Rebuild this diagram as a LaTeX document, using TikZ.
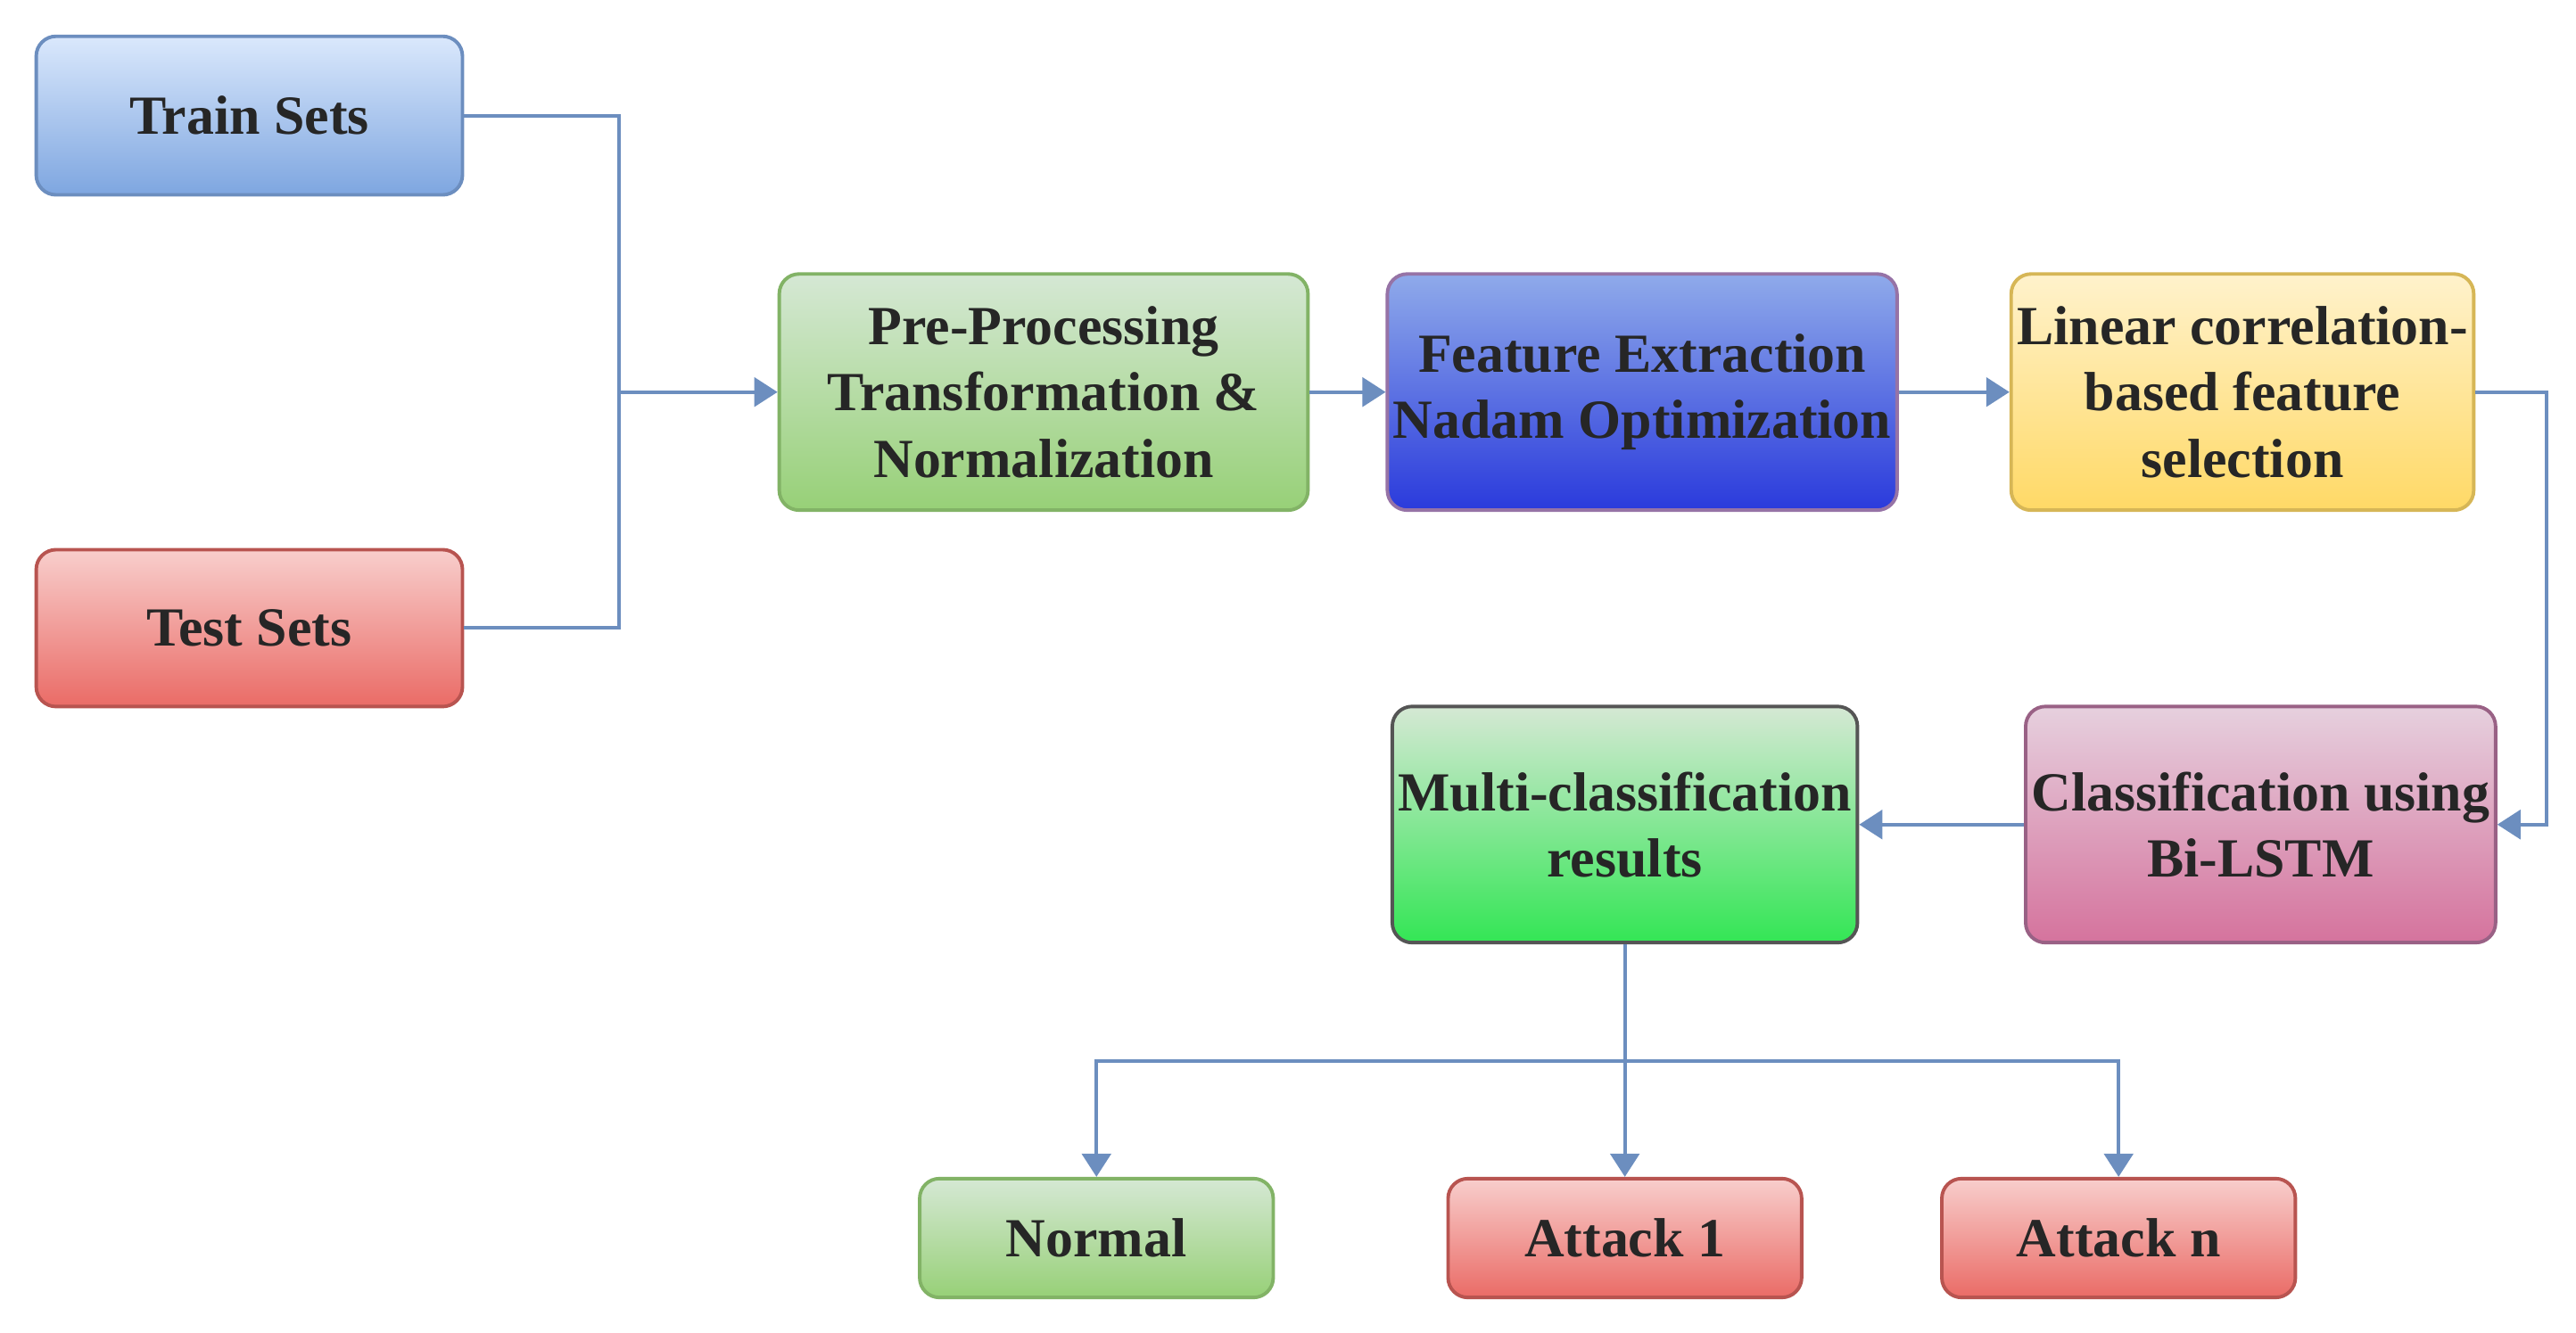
\documentclass[tikz,border=0pt]{standalone}
\usepackage{fontspec}
\setmainfont{Liberation Serif}
\usetikzlibrary{arrows.meta}
\definecolor{ln}{HTML}{6C8EBF}
\definecolor{bT}{HTML}{DAE8FC}\definecolor{bB}{HTML}{7EA6E0}\definecolor{bD}{HTML}{6C8EBF}
\definecolor{rT}{HTML}{F8CECC}\definecolor{rB}{HTML}{EA6B66}\definecolor{rD}{HTML}{B85450}
\definecolor{gT}{HTML}{D5E8D4}\definecolor{gB}{HTML}{97D077}\definecolor{gD}{HTML}{82B366}
\definecolor{fT}{HTML}{8FAAEA}\definecolor{fB}{HTML}{2A3ADC}\definecolor{fD}{HTML}{9673A6}
\definecolor{yT}{HTML}{FFF2CC}\definecolor{yB}{HTML}{FFD966}\definecolor{yD}{HTML}{D6B656}
\definecolor{pT}{HTML}{E6D0DE}\definecolor{pB}{HTML}{D5739D}\definecolor{pD}{HTML}{996185}
\definecolor{mB}{HTML}{33E655}\definecolor{mD}{HTML}{555555}
\tikzset{
 box/.style={rounded corners=0.12cm, line width=0.6pt, align=center, inner sep=1pt,
   font=\fontsize{9.5}{11.4}\selectfont\bfseries, minimum height=1.43cm, text=black!85},
 grad/.style n args={3}{top color=#1, bottom color=#2, draw=#3},
 conn/.style={draw=ln, line width=0.6pt, -{Triangle[open, fill=ln, length=4pt, width=5pt]}},
 plain/.style={draw=ln, line width=0.6pt},
}
\begin{document}
\begin{tikzpicture}[x=0.01cm,y=0.01cm]
\useasboundingbox (0,0) rectangle (1560,-807.5);
\node[box, grad={bT}{bB}{bD}, minimum width=2.58cm, minimum height=0.96cm] (train) at (151,-70) {Train Sets};
\node[box, grad={rT}{rB}{rD}, minimum width=2.58cm, minimum height=0.95cm] (test) at (151,-380.5) {Test Sets};
\node[box, grad={gT}{gB}{gD}, minimum width=3.2cm] (pre) at (632,-237.5) {Pre-Processing\\Transformation \&\\Normalization};
\node[box, grad={fT}{fB}{fD}, minimum width=2.77cm] (feat) at (994.5,-237.5) {Feature Extraction\\Nadam Optimization};
\node[box, grad={yT}{yB}{yD}, minimum width=2.78cm] (lin) at (1358,-237.5) {Linear correlation-\\based feature\\selection};
\node[box, grad={pT}{pB}{pD}, minimum width=2.56cm] (cls) at (1369,-499.5) {Classification using\\Bi-LSTM};
\node[box, grad={gT}{mB}{mD}, minimum width=2.56cm] (multi) at (984,-499.5) {Multi-classification\\results};
\node[box, grad={gT}{gB}{gD}, minimum width=2.14cm, minimum height=0.72cm] (normal) at (664,-750) {Normal};
\node[box, grad={rT}{rB}{rD}, minimum width=2.14cm, minimum height=0.72cm] (att1) at (984,-750) {Attack 1};
\node[box, grad={rT}{rB}{rD}, minimum width=2.14cm, minimum height=0.72cm] (attn) at (1283,-750) {Attack n};
\coordinate (j) at (375,-237.5);
\coordinate (b) at (984,-643);
\draw[plain] (train.east) -| (j);
\draw[plain] (test.east) -| (j);
\draw[conn] (j) -- (pre.west);
\draw[conn] (pre) -- (feat);
\draw[conn] (feat) -- (lin);
\draw[conn] (lin.east) -- ++(43,0) |- (cls.east);
\draw[conn] (cls) -- (multi);
\draw[conn] (multi.south) -- (att1.north);
\draw[conn] (b) -| (normal.north);
\draw[conn] (b) -| (attn.north);
\end{tikzpicture}
\end{document}
